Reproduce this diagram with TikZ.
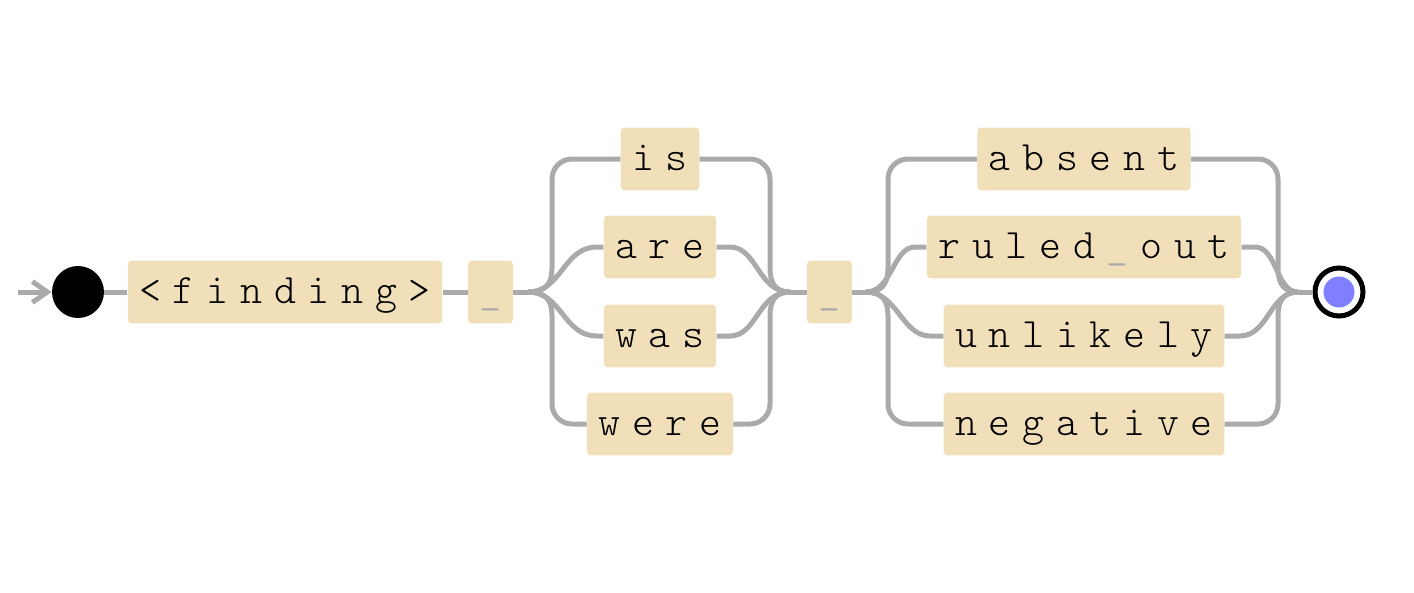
\documentclass[tikz,border=0pt]{standalone}
\usepackage{fontspec}
\newfontfamily\railfont{lmmonolt10-regular}[Extension=.otf, LetterSpace=28]
\usetikzlibrary{arrows,arrows.meta}
\definecolor{railgray}{RGB}{170,170,170}
\definecolor{termfill}{RGB}{240,223,184}
\definecolor{endblue}{RGB}{127,127,255}
\tikzset{term/.style={fill=termfill, rounded corners=0.08cm, minimum height=1.26cm, inner ysep=0pt, inner xsep=0.231cm, text height=0.56cm, text depth=0.1cm, font=\railfont\fontsize{23.8}{24}\selectfont}}
\tikzset{rail/.style={draw=railgray, line width=0.1cm}}
\newcommand{\us}{\textcolor{railgray}{\_}}
\begin{document}
\begin{tikzpicture}[x=0.02cm, y=-0.02cm]
        \useasboundingbox (0,0) rectangle (1414,592);
        \node[circle, fill=black, minimum size=1.04cm, inner sep=0] (start) at (78,292) {};
        \coordinate (in) at (18,292);
        \node[term] (find) at (285,292) {<finding>};
        \node[term] (u1) at (490.5,292) {\us};
        \node[term] (is) at (660,159) {is};
        \node[term] (are) at (660,247) {are};
        \node[term] (was) at (660,336) {was};
        \node[term] (were) at (660,424) {were};
        \node[term] (u2) at (829.5,292) {\us};
        \node[term] (absent) at (1084,159) {absent};
        \node[term] (ruled) at (1084,247) {ruled\kern0.28em\us\kern0.28em out};
        \node[term] (unlikely) at (1084,336) {unlikely};
        \node[term] (negative) at (1084,424) {negative};
        \node[circle, draw=black, line width=0.1cm, fill=white, minimum size=0.96cm, inner sep=0] (end) at (1339,292) {};
        \node[circle, fill=endblue, minimum size=0.62cm, inner sep=0] (endin) at (end) {};
        \coordinate (s1) at (528,292);
        \coordinate (m1) at (790,292);
        \coordinate (s2) at (866,292);
        \coordinate (m2) at (1298,292);
        \draw[rail, -{Straight Barb[length=0.3cm, width=0.42cm]}] (in) -- (start.west);
        \draw[rail] (start.east) -- (find.west);
        \draw[rail] (find.east) -- (u1.west);
        \draw[rail] (u1.east) -- (s1);
        \draw[rail] (s1) .. controls (545,292) and (552,285) .. (552,268) -- (552,179) arc[start angle=180, end angle=90, radius=0.4cm] -- (is.west);
        \draw[rail] (s1) .. controls (562,292) and (563,247) .. (597,247) -- (are.west);
        \draw[rail] (s1) .. controls (562,292) and (563,336) .. (597,336) -- (was.west);
        \draw[rail] (s1) .. controls (545,292) and (552,299) .. (552,316) -- (552,404) arc[start angle=180, end angle=270, radius=0.4cm] -- (were.west);
        \draw[rail] (is.east) -- (750,159) arc[start angle=90, end angle=0, radius=0.4cm] -- (770,268) .. controls (770,285) and (777,292) .. (m1);
        \draw[rail] (are.east) -- (730,247) .. controls (757,247) and (758,292) .. (m1);
        \draw[rail] (was.east) -- (730,336) .. controls (757,336) and (758,292) .. (m1);
        \draw[rail] (were.east) -- (750,424) arc[start angle=270, end angle=360, radius=0.4cm] -- (770,316) .. controls (770,299) and (777,292) .. (m1);
        \draw[rail] (m1) -- (u2.west);
        \draw[rail] (u2.east) -- (s2);
        \draw[rail] (s2) .. controls (881,292) and (888,285) .. (888,268) -- (888,179) arc[start angle=180, end angle=90, radius=0.4cm] -- (absent.west);
        \draw[rail] (s2) .. controls (892,292) and (893,247) .. (915,247) -- (ruled.west);
        \draw[rail] (s2) .. controls (897,292) and (902,336) .. (930,336) -- (unlikely.west);
        \draw[rail] (s2) .. controls (881,292) and (888,299) .. (888,316) -- (888,404) arc[start angle=180, end angle=270, radius=0.4cm] -- (negative.west);
        \draw[rail] (absent.east) -- (1258,159) arc[start angle=90, end angle=0, radius=0.4cm] -- (1278,268) .. controls (1278,285) and (1285,292) .. (m2);
        \draw[rail] (ruled.east) -- (1255,247) .. controls (1277,247) and (1276,292) .. (m2);
        \draw[rail] (unlikely.east) -- (1240,336) .. controls (1268,336) and (1270,292) .. (m2);
        \draw[rail] (negative.east) -- (1258,424) arc[start angle=270, end angle=360, radius=0.4cm] -- (1278,316) .. controls (1278,299) and (1285,292) .. (m2);
        \draw[rail] (m2) -- (end.west);
      \end{tikzpicture}
\end{document}
